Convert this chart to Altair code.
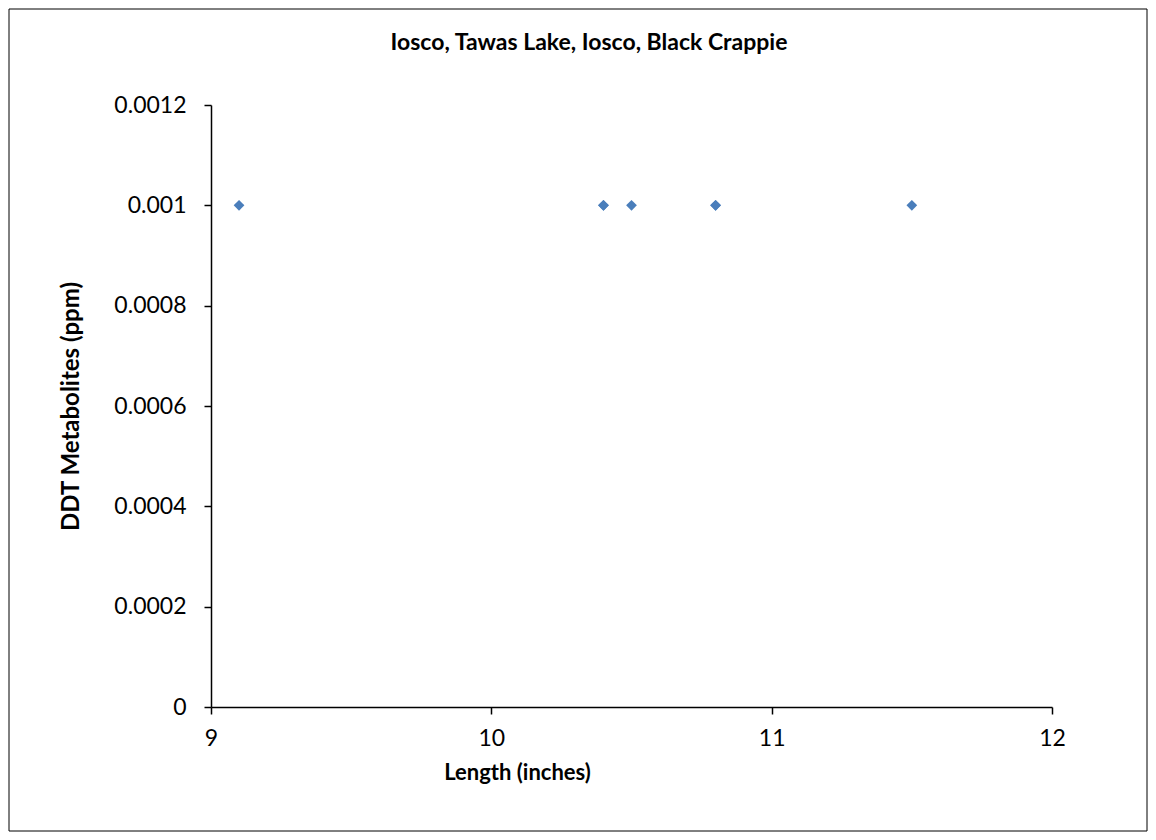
import altair as alt
import pandas as pd

# Data
lengths = [9.1, 10.4, 10.4, 10.5, 10.8, 10.8, 11.5]
ddt_ppm = [0.001, 0.001, 0.001, 0.001, 0.001, 0.001, 0.001]

x_ticks = [9, 10, 11, 12]
y_ticks = [0, 0.0002, 0.0004, 0.0006, 0.0008, 0.001, 0.0012]

chart_title = "Iosco, Tawas Lake, Iosco, Black Crappie"
x_title = "Length (inches)"
y_title = "DDT Metabolites  (ppm)"

df = pd.DataFrame({"length": lengths, "ddt": ddt_ppm})
one = pd.DataFrame({"k": [0]})

FONT = "Lato"
W, H = 841, 602

points = alt.Chart(df).mark_point(
    shape="diamond", filled=True, size=115, color="#4A7EBB", opacity=1
).encode(
    x=alt.X(
        "length:Q",
        scale=alt.Scale(domain=[9, 12], nice=False, zero=False),
        axis=alt.Axis(
            values=x_ticks, title=x_title, format="d", labelFlush=False,
            labelPadding=13, titleFontSize=22,
            titleX=306, titleY=72, titleAnchor="middle", titleBaseline="alphabetic",
        ),
    ),
    y=alt.Y(
        "ddt:Q",
        scale=alt.Scale(domain=[0, 0.0012], nice=False),
        axis=alt.Axis(
            values=y_ticks, title=y_title, format=".4~f", labelFlush=False,
            labelPadding=18, titleFontSize=24,
            titleX=-140, titleY=301, titleAngle=-90, titleAlign="center",
            titleBaseline="middle",
        ),
    ),
)

border = alt.Chart(one).mark_rect(
    fillOpacity=0, stroke="black", strokeWidth=1
).encode(
    x=alt.value(-202), x2=alt.value(936), y=alt.value(-96), y2=alt.value(726)
)

title = alt.Chart(one).mark_text(
    font=FONT, fontSize=23, fontWeight="bold", color="black",
    align="center", baseline="alphabetic",
).encode(
    x=alt.value(378), y=alt.value(-55), text=alt.value(chart_title)
)

chart = alt.layer(border, title, points).properties(
    width=W,
    height=H,
    autosize=alt.AutoSizeParams(type="none"),
    padding={"left": 203, "top": 97, "right": 96, "bottom": 125},
).configure_view(stroke=None).configure_axis(
    grid=False,
    domainColor="black", domainWidth=1.5,
    tickColor="black", tickWidth=1.5, tickSize=7,
    labelFont=FONT, labelFontSize=23, labelColor="black",
    titleFont=FONT, titleFontWeight="bold", titleColor="black",
)

chart.save("out.html", embed_options={"renderer": "svg", "actions": False})
